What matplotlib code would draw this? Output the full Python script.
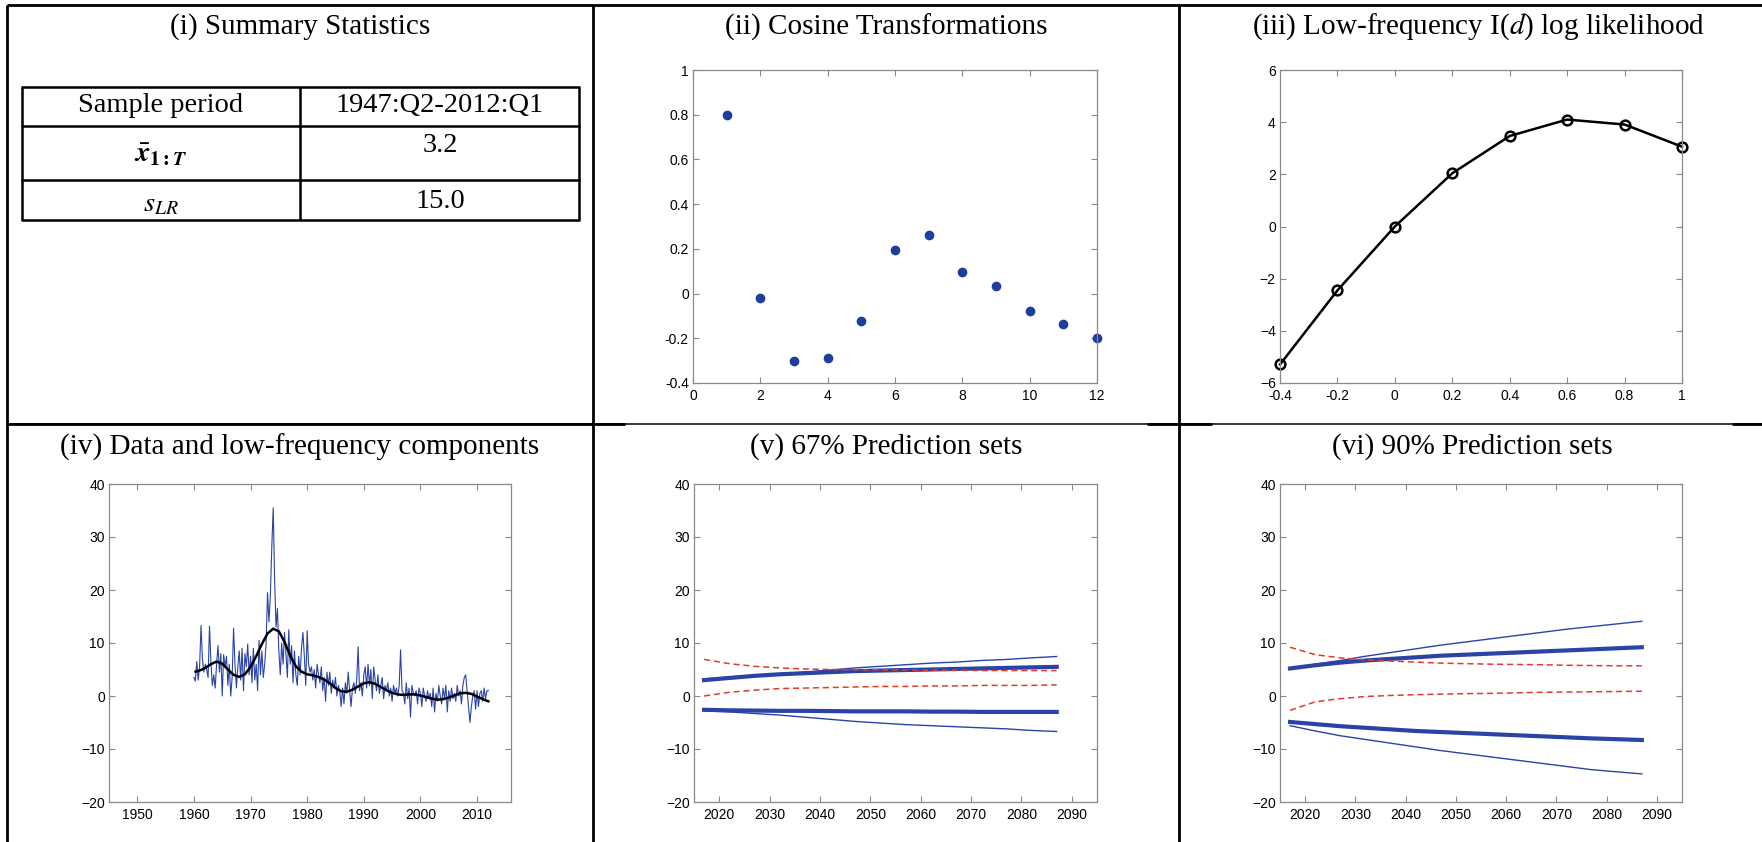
import numpy as np
import matplotlib
matplotlib.use("Agg")
import matplotlib.pyplot as plt
from matplotlib.lines import Line2D

# ---- data ----
# (i) summary statistics table
table_rows = ["Sample period", r"$\bar{\mathbfit{x}}_{\mathbf{1:}\mathbfit{T}}$", r"$s_{LR}$"]
table_vals = ["1947:Q2-2012:Q1", "3.2", "15.0"]

# (ii) cosine transformations
cos_idx = np.arange(1, 13)
cos_vals = [0.80, -0.02, -0.30, -0.287, -0.123, 0.194, 0.264, 0.096, 0.032, -0.077, -0.135, -0.197]

# (iii) low-frequency I(d) log likelihood
d_grid = [-0.4, -0.2, 0.0, 0.2, 0.4, 0.6, 0.8, 1.0]
loglik = [-5.29, -2.45, 0.0, 2.04, 3.47, 4.10, 3.91, 3.06]

# (iv) quarterly data 1960:Q1-2012:Q1 and its low-frequency component
data_q = [
    3.5, 2.8, 6.5, 3.0,   5.5, 13.3, 7.0, 4.5,   6.0, 5.0, 3.5, 13.2,  6.5, 2.0, 4.0, 1.5,
    6.0, 9.5, 4.5, 8.0,   0.0, 7.8, 5.5, 7.5,    2.0, 6.0, 0.0, 3.5,   12.8, 6.0, 1.5, 5.5,
    8.5, 3.0, 9.0, 1.0,   8.0, 5.5, 9.8, 4.0,    7.5, 2.5, 9.0, 3.0,   6.0, 1.0, 10.5, 4.0,
    8.5, 3.5, 6.0, 10.0,  19.5, 14.0, 19.0, 28.0, 35.5, 22.0, 13.0, 16.5, 8.5, 4.0, 10.0, 6.0,
    12.0, 8.0, 3.5, 12.5, 6.0, 9.5, 2.5, 8.5,    4.0, 2.0, 7.5, 4.0,   9.0, 12.0, 7.5, 2.0,
    12.3, 6.0, 4.5, 5.5,  3.0, 5.0, 1.5, 6.0,    4.0, 2.5, 5.5, 1.0,   3.5, -1.0, 4.5, 2.0,
    4.5, 0.5, 3.0, 1.5,   3.5, 0.0, 2.0, 1.0,    -2.0, 1.5, -1.5, 2.5, 0.5, 4.5, 1.0, -2.0,
    1.5, 2.5, 0.5, 3.0,   9.3, 1.0, 2.5, 0.0,    4.0, 5.5, 1.5, 6.0,   2.0, 5.0, -0.5, 5.5,
    3.0, 1.0, 4.0, 0.5,   2.0, 3.5, -0.5, 2.0,   1.0, 2.5, 0.0, 1.5,   -1.0, 2.0, 0.5, 1.5,
    0.0, 2.0, 8.7, 1.0,   0.5, -1.5, 2.5, -0.5,  1.5, -4.0, 2.0, 0.5,  0.0, 1.0, -1.5, 1.5,
    0.5, -2.0, 1.5, 0.0,  -1.0, 1.0, -0.5, 0.5,  -2.0, 1.5, -3.0, 0.5, -1.0, 2.0, 0.0, -1.5,
    1.5, -0.5, 2.0, -3.0, 1.0, -1.0, 1.5, -0.5,  0.5, -1.0, 2.0, 0.0,  1.0, -1.5, 2.0, 3.5,
    4.0, 1.0, -2.0, -5.0, -2.0, 0.0, 1.0, -2.5,  1.0, -2.0, 0.5, 1.0,  -1.0, 1.5, -0.5, 1.0,
    1.0,
]
data_dates = 1960 + np.arange(len(data_q)) / 4.0

lf_years = [1960.3] + list(range(1961, 2013))
lf_vals = [4.6, 4.8, 5.3, 6.0, 6.5, 6.1, 5.0, 4.0, 3.6, 4.1,
           5.5, 7.5, 9.8, 11.8, 12.7, 12.2, 10.2, 7.6, 5.6, 4.6,
           4.1, 3.9, 3.6, 3.1, 2.4, 1.5, 0.9, 0.8, 1.2, 1.8,
           2.4, 2.6, 2.3, 1.7, 1.1, 0.6, 0.3, 0.2, 0.3, 0.3,
           0.1, -0.2, -0.5, -0.7, -0.6, -0.3, 0.1, 0.5, 0.6, 0.4,
           -0.1, -0.6, -1.0]

# (v)/(vi) prediction sets, 2017-2087
pred_years = [2017, 2022, 2027, 2032, 2037, 2042, 2047, 2052, 2057, 2062, 2067, 2072, 2077, 2082, 2087]

p67_thin_hi = [3.2, 3.6, 3.9, 4.2, 4.5, 4.9, 5.3, 5.6, 5.9, 6.2, 6.4, 6.7, 6.9, 7.2, 7.45]
p67_thick_hi = [3.0, 3.4, 3.8, 4.1, 4.3, 4.5, 4.7, 4.8, 4.9, 5.0, 5.1, 5.2, 5.3, 5.4, 5.5]
p67_red_hi = [6.9, 6.1, 5.6, 5.3, 5.1, 5.0, 4.95, 4.9, 4.9, 4.85, 4.85, 4.8, 4.8, 4.8, 4.8]
p67_red_lo = [0.0, 0.7, 1.1, 1.4, 1.5, 1.6, 1.7, 1.8, 1.8, 1.9, 1.9, 2.0, 2.0, 2.0, 2.1]
p67_thick_lo = [-2.6, -2.7, -2.75, -2.8, -2.8, -2.85, -2.9, -2.9, -2.9, -2.95, -2.95, -3.0, -3.0, -3.0, -3.0]
p67_thin_lo = [-2.8, -3.0, -3.3, -3.6, -4.0, -4.4, -4.8, -5.1, -5.4, -5.6, -5.8, -6.0, -6.2, -6.5, -6.7]

p90_thin_hi = [5.2, 6.0, 6.7, 7.5, 8.2, 8.9, 9.6, 10.2, 10.8, 11.4, 12.0, 12.6, 13.1, 13.6, 14.1]
p90_thick_hi = [5.2, 5.8, 6.3, 6.7, 7.0, 7.3, 7.6, 7.8, 8.0, 8.2, 8.4, 8.6, 8.8, 9.0, 9.2]
p90_red_hi = [9.2, 7.8, 7.2, 6.8, 6.6, 6.4, 6.2, 6.1, 6.0, 5.95, 5.9, 5.8, 5.75, 5.7, 5.7]
p90_red_lo = [-2.7, -1.1, -0.5, -0.1, 0.1, 0.25, 0.35, 0.45, 0.5, 0.6, 0.7, 0.75, 0.8, 0.85, 0.9]
p90_thick_lo = [-4.9, -5.3, -5.7, -6.0, -6.3, -6.6, -6.8, -7.0, -7.2, -7.4, -7.6, -7.8, -8.0, -8.15, -8.3]
p90_thin_lo = [-5.6, -6.6, -7.5, -8.2, -8.9, -9.6, -10.3, -10.9, -11.5, -12.1, -12.7, -13.3, -13.9, -14.3, -14.7]

# ---- styling ----
W, H = 1762, 842
BLUE = "#2a43a6"
DOT = "#1f3d9c"
RED = "#e43a2a"
GREY = "#8a8a8a"
serif = ["Liberation Serif", "DejaVu Serif"]
sans = ["Liberation Sans", "DejaVu Sans"]

plt.rcParams["mathtext.fontset"] = "stix"
plt.rcParams["font.family"] = sans

fig = plt.figure(figsize=(W / 100, H / 100), dpi=100)


def px_axes(left, right, top, bottom):
    return fig.add_axes([left / W, 1 - bottom / H, (right - left) / W, (bottom - top) / H])


def matlab_box(ax):
    for s in ax.spines.values():
        s.set_color(GREY)
        s.set_linewidth(0.9)
    ax.tick_params(direction="in", length=4, width=0.8, color=GREY, labelsize=10,
                   top=True, right=True, pad=3)
    ax.tick_params(axis="x", pad=4)


def fig_line(x0, y0, x1, y1, lw):
    fig.add_artist(Line2D([x0 / W, x1 / W], [1 - y0 / H, 1 - y1 / H], color="black",
                          linewidth=lw, solid_capstyle="butt", transform=fig.transFigure))


# cell borders
fig_line(7, 5, W, 5, 2.0)
fig_line(7, 5, 7, H, 2.0)
fig_line(593, 5, 593, H, 2.0)
fig_line(1179, 5, 1179, H, 2.0)
fig_line(7, 424, W, 424, 1.1)
for a, b in [(7, 625), (1147, 1212), (1732, W)]:
    fig_line(a, 424, b, 424, 2.0)

# titles
title_kw = dict(fontsize=21, family=serif, ha="center", va="center")
fig.text(300 / W, 1 - 27 / H, "(i) Summary Statistics", **title_kw)
fig.text(886 / W, 1 - 27 / H, "(ii) Cosine Transformations", **title_kw)
fig.text(1478 / W, 1 - 27 / H, r"(iii) Low-frequency I($\mathit{d}$) log likelihood", **title_kw)
fig.text(300 / W, 1 - 447 / H, "(iv) Data and low-frequency components", **title_kw)
fig.text(886 / W, 1 - 447 / H, "(v) 67% Prediction sets", **title_kw)
fig.text(1472 / W, 1 - 447 / H, "(vi) 90% Prediction sets", **title_kw)

# (i) table
tx = [22, 300, 579]
ty = [86.5, 125.5, 180, 220]
for y in ty:
    fig_line(tx[0] - 1, y, tx[2] + 1, y, 1.8)
for x in tx:
    fig_line(x, ty[0], x, ty[-1], 1.8)
lab_y = [106, 155, 205]
val_y = [106, 145, 201]
for lab, val, ly, vy in zip(table_rows, table_vals, lab_y, val_y):
    fig.text(161 / W, 1 - ly / H, lab, fontsize=20.5, family=serif, ha="center", va="center")
    fig.text(440 / W, 1 - vy / H, val, fontsize=20.5, family=serif, ha="center", va="center")

# (ii) cosine transformations
ax2 = px_axes(693, 1097, 70, 383)
ax2.plot(cos_idx, cos_vals, "o", color=DOT, markersize=7, markeredgewidth=0, clip_on=False)
ax2.set_xlim(0, 12)
ax2.set_ylim(-0.4, 1)
ax2.set_xticks(np.arange(0, 13, 2))
ax2.set_yticks(np.arange(-0.4, 1.01, 0.2))
ax2.set_yticklabels(["-0.4", "-0.2", "0", "0.2", "0.4", "0.6", "0.8", "1"])
matlab_box(ax2)

# (iii) log likelihood
ax3 = px_axes(1280, 1682, 70, 383)
ax3.plot(d_grid, loglik, "-o", color="black", linewidth=1.8, markersize=7,
         markerfacecolor="none", markeredgewidth=1.8, clip_on=False)
ax3.set_xlim(-0.4, 1)
ax3.set_ylim(-6, 6)
ax3.set_xticks(np.arange(-0.4, 1.01, 0.2))
ax3.set_xticklabels(["-0.4", "-0.2", "0", "0.2", "0.4", "0.6", "0.8", "1"])
ax3.set_yticks(np.arange(-6, 7, 2))
matlab_box(ax3)

# (iv) data and low-frequency component
ax4 = px_axes(109, 511, 484, 802)
ax4.plot(data_dates, data_q, color=BLUE, linewidth=0.8)
ax4.plot(lf_years, lf_vals, color="black", linewidth=1.8)
ax4.set_xlim(1945, 2016)
ax4.set_ylim(-20, 40)
ax4.set_xticks(np.arange(1950, 2011, 10))
ax4.set_yticks(np.arange(-20, 41, 10))
matlab_box(ax4)

# (v) and (vi) prediction sets
sets = [
    (694, 1097, (p67_thin_hi, p67_thick_hi, p67_red_hi, p67_red_lo, p67_thick_lo, p67_thin_lo)),
    (1280, 1682, (p90_thin_hi, p90_thick_hi, p90_red_hi, p90_red_lo, p90_thick_lo, p90_thin_lo)),
]
for left, right, (thin_hi, thick_hi, red_hi, red_lo, thick_lo, thin_lo) in sets:
    ax = px_axes(left, right, 484, 802)
    for s in (thin_hi, thin_lo):
        ax.plot(pred_years, s, color=BLUE, linewidth=1.0)
    for s in (thick_hi, thick_lo):
        ax.plot(pred_years, s, color=BLUE, linewidth=3.0)
    for s in (red_hi, red_lo):
        ax.plot(pred_years, s, color=RED, linewidth=1.1, linestyle=(0, (4, 2.5)))
    ax.set_xlim(2015, 2095)
    ax.set_ylim(-20, 40)
    ax.set_xticks(np.arange(2020, 2091, 10))
    ax.set_yticks(np.arange(-20, 41, 10))
    matlab_box(ax)

fig.savefig("out.png", dpi=100)
